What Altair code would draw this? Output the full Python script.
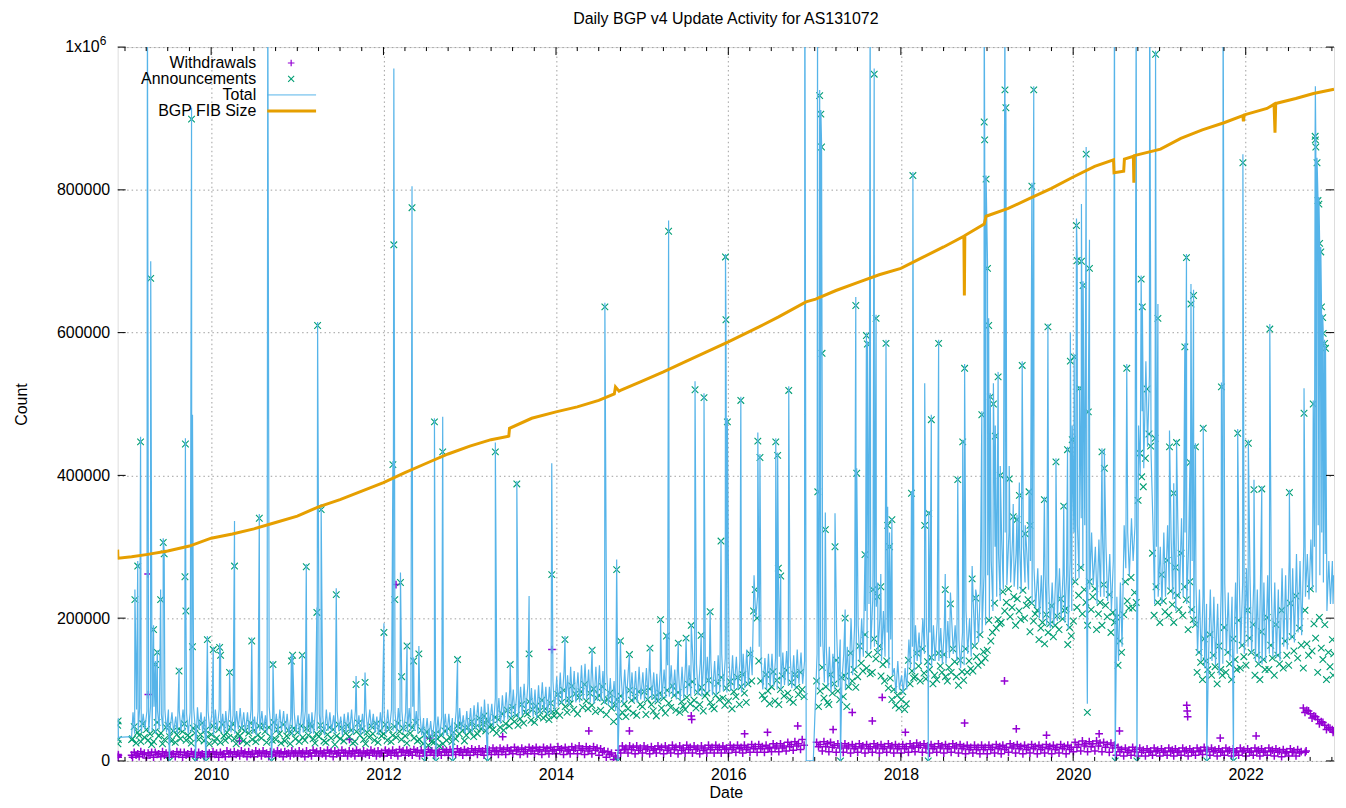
import altair as alt
import pandas as pd

K = 1000
W, H = 1220, 716
FONT = "Liberation Sans"
PURPLE, GREEN, BLUE, ORANGE = "#9400D3", "#009E73", "#56B4E9", "#E69F00"
GRID = "#a0a0a0"
PLUS = "M-1,0L1,0M0,-1L0,1"
CROSS = "M-1,-1L1,1M-1,1L1,-1"

YEARS = list(range(2009, 2023))

# ---------- Total (thousands): four readings per month (days 4, 11, 19, 26) ----------
total_2009 = [None, None, None, None, 68, 38, 72, 42, 74, 40, 66, 44,
              70, 40, 76, 42, 76, 38, 70, 44, 66, 42, 72, 40,
              72, 44, 68, 40, 62, 38, 70, 42, 72, 42, 66, 38,
              68, 40, 74, 44, 75, 44, 68, 40, 62, 38, 70, 42]
total_2010 = [66, 36, 72, 42, 72, 40, 66, 38, 70, 42, 74, 40,
              64, 38, 70, 44, 74, 44, 68, 40, 68, 40, 72, 38,
              62, 36, 70, 42, 70, 42, 64, 38, 76, 44, 70, 40,
              66, 38, 72, 42, 70, 40, 66, 38, 60, 36, 68, 40]
total_2011 = [64, 36, 70, 40, 70, 40, 66, 38, 68, 38, 72, 42,
              66, 40, 62, 36, 72, 42, 68, 40, 64, 38, 70, 42,
              62, 36, 66, 40, 68, 40, 72, 38, 70, 42, 64, 36,
              66, 38, 70, 42, 72, 44, 66, 40, 62, 36, 68, 40]
total_2012 = [66, 38, 72, 42, 72, 42, 68, 40, 74, 44, 70, 40,
              68, 40, 74, 42, 76, 42, 70, 38, 64, 36, 60, 34,
              60, 32, 56, 30, 58, 30, 62, 34, 62, 34, 66, 36,
              66, 36, 60, 34, 70, 40, 74, 42, 64, 38, 70, 40]
total_2013 = [74, 40, 78, 44, 82, 44, 76, 42, 86, 46, 80, 50,
              80, 48, 88, 52, 88, 52, 92, 56, 96, 58, 100, 60,
              100, 62, 96, 60, 104, 64, 108, 66, 108, 66, 102, 62,
              100, 60, 106, 66, 110, 68, 104, 64, 104, 66, 112, 70]
total_2014 = [118, 76, 124, 80, 126, 80, 120, 78, 132, 84, 126, 82,
              124, 82, 134, 86, 136, 86, 128, 82, 128, 80, 132, 84,
              134, 84, 126, 80, 122, 78, 116, 74, 112, 70, 118, 76,
              120, 80, 128, 84, 130, 86, 124, 82, 126, 82, 132, 86]
total_2015 = [124, 84, 130, 86, 130, 86, 124, 82, 122, 82, 128, 86,
              128, 88, 134, 90, 134, 90, 128, 86, 126, 84, 132, 88,
              138, 92, 134, 90, 142, 94, 136, 92, 136, 90, 142, 94,
              146, 96, 140, 92, 140, 92, 148, 96, 150, 98, 144, 96]
total_2016 = [140, 98, 148, 100, 146, 100, 140, 96, 150, 102, 156, 106,
              160, 120, 260, 200, 230, 160, 140, 100, 144, 100, 150, 104,
              150, 104, 144, 100, 146, 100, 152, 106, 154, 106, 148, 102,
              148, 102, 156, 108, 152, 108, 140, 0, 0, 0, 0, 0]
total_2017 = [None, 150, 100, 160, 170, 110, 160, 104, 160, 96, 150, 100,
              180, 104, 170, 110, 150, 100, 160, 106, 200, 120, 190, 130,
              190, 140, 200, 146, 210, 150, 220, 156, 227, 160, 216, 150,
              200, 140, 210, 146, 180, 130, 170, 120, 130, 96, 140, 100]
total_2018 = [120, 95, 130, 100, 170, 130, 160, 124, 190, 140, 180, 136,
              200, 150, 190, 144, 180, 132, 190, 140, 196, 140, 186, 136,
              186, 136, 196, 144, 200, 150, 190, 140, 170, 130, 180, 134,
              210, 150, 200, 146, 220, 160, 230, 166, 250, 180, 260, 190]
total_2019 = [260, 200, 280, 210, 300, 230, 290, 224, 310, 240, 320, 246,
              320, 250, 310, 244, 290, 240, 300, 236, 300, 250, 290, 240,
              280, 220, 270, 214, 270, 200, 260, 196, 260, 190, 250, 186,
              250, 190, 260, 196, 270, 200, 262, 194, 260, 185, 280, 210]
total_2020 = [320, 250, 330, 256, 340, 270, 330, 260, 310, 240, 320, 246,
              300, 220, 310, 230, 320, 230, 300, 224, 290, 210, 280, 206,
              230, 140, 250, 160, 330, 270, 320, 260, 340, 280, 330, 270,
              470, 400, 490, 410, 560, 440, 540, 430, 330, 220, 300, 230]
total_2021 = [300, 220, 320, 230, 330, 240, 310, 226, 320, 210, 340, 230,
              340, 230, 320, 220, 300, 205, 280, 190, 250, 150, 240, 140,
              230, 130, 220, 124, 240, 140, 230, 134, 220, 120, 240, 136,
              250, 150, 236, 140, 230, 140, 250, 150, 260, 160, 250, 150]
total_2022 = [270, 160, 260, 150, 250, 140, 240, 136, 240, 135, 250, 140,
              260, 150, 250, 146, 250, 145, 240, 140, 270, 160, 260, 156,
              280, 170, 270, 166, 290, 180, 280, 176, 300, 230, 290, 226,
              310, 240, 300, 236, 330, 260, 320, 250, 290, 210, 280, 220]
TOTAL = [total_2009, total_2010, total_2011, total_2012, total_2013, total_2014, total_2015,
         total_2016, total_2017, total_2018, total_2019, total_2020, total_2021, total_2022]

# ---------- Announcements (thousands): four per month (days 2, 9, 17, 24) ----------
ann_2009 = [None, None, None, None, 31, 48, 25, 40, 36, 27, 52, 33,
            44, 29, 38, 23, 27, 41, 54, 35, 39, 24, 30, 47,
            50, 34, 28, 42, 26, 37, 45, 31, 41, 52, 29, 36,
            33, 25, 46, 39, 48, 30, 37, 53, 28, 43, 34, 24]
ann_2010 = [37, 49, 27, 32, 44, 26, 51, 35, 29, 40, 33, 47,
            52, 31, 24, 38, 35, 46, 28, 42, 25, 39, 53, 30,
            43, 27, 36, 49, 32, 50, 41, 26, 47, 34, 29, 54,
            30, 44, 38, 25, 51, 28, 35, 43, 24, 39, 46, 31]
ann_2011 = [40, 27, 49, 33, 29, 45, 36, 52, 48, 31, 25, 38,
            34, 50, 42, 28, 26, 37, 47, 32, 44, 23, 35, 51,
            31, 46, 28, 39, 50, 34, 43, 25, 27, 41, 53, 36,
            45, 30, 24, 40, 33, 49, 38, 29, 52, 26, 42, 35]
ann_2012 = [38, 51, 29, 44, 27, 36, 48, 33, 53, 41, 30, 46,
            35, 25, 50, 39, 47, 32, 54, 28, 30, 43, 24, 37,
            41, 22, 34, 27, 26, 38, 31, 21, 36, 24, 42, 29,
            45, 33, 27, 40, 31, 49, 38, 52, 43, 28, 36, 47]
ann_2013 = [41, 55, 34, 47, 38, 60, 45, 52, 63, 42, 56, 48,
            50, 44, 61, 39, 58, 47, 66, 43, 52, 71, 49, 60,
            75, 55, 64, 50, 59, 79, 53, 68, 66, 83, 57, 72,
            54, 77, 62, 70, 85, 60, 73, 66, 58, 81, 69, 63]
ann_2014 = [70, 93, 64, 82, 99, 76, 68, 87, 80, 105, 72, 94,
            66, 89, 97, 75, 107, 84, 73, 95, 78, 101, 69, 88,
            92, 71, 104, 83, 65, 86, 95, 74, 55, 78, 86, 62,
            91, 68, 80, 62, 73, 99, 85, 67, 88, 64, 97, 79]
ann_2015 = [76, 97, 65, 86, 101, 79, 70, 90, 63, 84, 95, 74,
            88, 67, 99, 81, 75, 105, 92, 71, 96, 68, 83, 77,
            72, 89, 107, 80, 111, 85, 74, 96, 79, 103, 70, 91,
            95, 113, 82, 76, 73, 92, 109, 86, 117, 88, 78, 102]
ann_2016 = [84, 111, 73, 97, 90, 117, 79, 104, 121, 95, 82, 108,
            150, 112, 210, 240, 200, 140, 112, 92, 87, 121, 98, 80,
            104, 125, 84, 113, 79, 100, 119, 91, 127, 95, 86, 110,
            82, 121, 103, 93, 124, 100, 90, None, None, None, None, None]
ann_2017 = [None, 112, 76, 98, 131, 88, 104, 82, 79, 121, 95, 108,
            141, 98, 86, 117, 90, 119, 76, 104, 151, 112, 128, 103,
            118, 161, 137, 126, 177, 130, 149, 122, 124, 171, 143, 152,
            161, 119, 135, 112, 140, 102, 116, 86, 100, 78, 92, 74]
ann_2018 = [86, 97, 72, 80, 141, 108, 126, 116, 118, 151, 133, 112,
            157, 123, 115, 139, 128, 145, 108, 120, 114, 151, 133, 124,
            149, 118, 112, 131, 124, 157, 139, 118, 106, 141, 125, 113,
            157, 124, 140, 129, 126, 161, 146, 134, 177, 138, 153, 144]
ann_2019 = [155, 197, 168, 180, 221, 186, 198, 192, 194, 237, 210, 222,
            241, 202, 215, 230, 190, 227, 210, 198, 239, 200, 218, 226,
            181, 221, 196, 206, 211, 170, 186, 194, 164, 205, 180, 192,
            217, 174, 190, 203, 184, 227, 199, 211, 213, 163, 187, 175]
ann_2020 = [196, 251, 215, 232, 271, 206, 240, 222, 190, 251, 212, 230,
            241, 184, 206, 222, 190, 247, 218, 202, 233, 180, 208, 194,
            201, 134, 168, 152, 205, 251, 224, 214, 257, 214, 236, 222,
            365, 431, 398, 384, 424, 521, 458, 441, 291, 204, 244, 222]
ann_2021 = [194, 261, 224, 209, 281, 204, 238, 219, 194, 271, 232, 212,
            291, 204, 244, 226, 184, 251, 212, 198, 191, 124, 152, 138,
            114, 171, 140, 128, 177, 120, 148, 132, 108, 161, 128, 120,
            187, 124, 152, 136, 114, 171, 142, 128, 197, 130, 162, 146]
ann_2022 = [134, 211, 172, 152, 191, 120, 148, 136, 114, 181, 142, 128,
            201, 128, 162, 144, 120, 191, 148, 136, 211, 130, 168, 148,
            134, 221, 174, 154, 231, 144, 186, 162, 130, 211, 164, 148,
            241, 154, 192, 172, 124, 201, 158, 142, 191, 114, 152, 132]
ANN = [ann_2009, ann_2010, ann_2011, ann_2012, ann_2013, ann_2014, ann_2015,
       ann_2016, ann_2017, ann_2018, ann_2019, ann_2020, ann_2021, ann_2022]

# ---------- Withdrawals (thousands): four per month (days 2, 9, 17, 24) ----------
wd_2009 = [None, None, None, None, 5, 12, 8, 10, 6, 13, 9, 11,
           4, 11, 8, 12, 5, 12, 9, 10, 6, 13, 8, 11,
           5, 12, 9, 10, 6, 13, 9, 12, 5, 12, 8, 10,
           6, 13, 9, 11, 5, 12, 8, 10, 6, 13, 9, 11]
wd_2010 = [6, 13, 9, 11, 5, 12, 9, 10, 6, 14, 10, 12,
           6, 13, 9, 11, 7, 14, 10, 12, 6, 13, 9, 11,
           6, 14, 10, 12, 7, 14, 10, 11, 6, 13, 9, 12,
           7, 14, 10, 12, 6, 13, 10, 11, 7, 14, 10, 12]
wd_2011 = [7, 14, 10, 12, 6, 14, 10, 11, 7, 15, 11, 13,
           7, 14, 10, 12, 7, 15, 11, 13, 6, 14, 10, 12,
           7, 15, 11, 12, 7, 14, 10, 13, 7, 15, 11, 12,
           7, 14, 10, 12, 8, 15, 11, 13, 7, 14, 10, 12]
wd_2012 = [7, 15, 11, 13, 8, 15, 11, 12, 7, 16, 12, 14,
           8, 15, 11, 13, 8, 16, 12, 14, 7, 15, 11, 13,
           8, 16, 12, 14, 8, 15, 11, 13, 8, 16, 12, 14,
           8, 16, 12, 13, 9, 17, 12, 14, 8, 16, 12, 14]
wd_2013 = [8, 17, 12, 15, 9, 17, 13, 14, 8, 17, 12, 15,
           9, 18, 13, 15, 9, 18, 13, 16, 9, 18, 14, 15,
           10, 19, 14, 16, 9, 18, 13, 16, 10, 19, 14, 17,
           10, 19, 14, 16, 9, 19, 14, 17, 10, 19, 14, 16]
wd_2014 = [10, 20, 15, 17, 9, 19, 14, 16, 10, 20, 15, 18,
           10, 21, 15, 17, 9, 20, 14, 17, 10, 20, 15, 18,
           8, 17, 12, 14, 5, 13, 9, 11, 2, 7, 4, 15,
           11, 21, 16, 18, 11, 21, 16, 19, 10, 21, 15, 18]
wd_2015 = [11, 21, 16, 18, 10, 20, 15, 17, 11, 21, 16, 19,
           10, 21, 15, 18, 11, 22, 16, 19, 10, 21, 15, 18,
           11, 22, 16, 19, 11, 21, 16, 18, 10, 21, 15, 18,
           11, 22, 16, 19, 11, 22, 16, 19, 11, 21, 16, 18]
wd_2016 = [11, 22, 16, 19, 12, 22, 17, 19, 11, 22, 16, 19,
           12, 23, 17, 20, 12, 23, 17, 20, 12, 22, 17, 19,
           13, 24, 18, 21, 13, 24, 18, 21, 14, 26, 20, 23,
           15, 27, 21, 24, 16, 30, 22, None, None, None, None, None]
wd_2017 = [None, 26, 20, 23, 14, 27, 20, 24, 13, 26, 19, 22,
           12, 24, 18, 21, 12, 24, 18, 21, 11, 23, 17, 20,
           12, 24, 18, 21, 11, 23, 17, 20, 12, 24, 18, 21,
           11, 23, 17, 20, 12, 24, 18, 21, 11, 23, 17, 20]
wd_2018 = [11, 23, 17, 20, 12, 24, 18, 21, 13, 25, 19, 22,
           12, 24, 18, 21, 11, 23, 17, 20, 12, 24, 18, 21,
           11, 23, 17, 20, 12, 24, 18, 21, 11, 23, 17, 20,
           10, 22, 16, 19, 11, 22, 16, 19, 10, 22, 16, 19]
wd_2019 = [10, 22, 16, 19, 11, 23, 17, 20, 10, 22, 16, 19,
           12, 24, 18, 21, 11, 23, 17, 20, 10, 22, 16, 19,
           11, 23, 17, 20, 10, 22, 16, 19, 11, 23, 17, 20,
           10, 22, 16, 19, 11, 23, 17, 20, 10, 22, 16, 19]
wd_2020 = [13, 26, 19, 23, 14, 28, 21, 24, 13, 27, 20, 24,
           14, 28, 21, 25, 13, 26, 19, 23, 12, 25, 18, 22,
           8, 19, 13, 16, 7, 18, 12, 15, 8, 19, 13, 16,
           7, 18, 12, 15, 7, 17, 12, 14, 8, 18, 13, 15]
wd_2021 = [7, 17, 12, 14, 8, 18, 13, 15, 7, 17, 12, 14,
           8, 18, 13, 15, 7, 17, 12, 14, 8, 18, 13, 15,
           9, 19, 14, 16, 8, 18, 13, 15, 7, 17, 12, 14,
           8, 18, 13, 15, 7, 17, 12, 14, 8, 18, 13, 15]
wd_2022 = [7, 17, 12, 14, 8, 18, 13, 15, 7, 17, 12, 14,
           8, 18, 13, 15, 7, 17, 12, 14, 6, 16, 11, 13,
           7, 17, 12, 14, 7, 16, 11, 13, 74, 68, 71, 70,
           66, 60, 63, 62, 58, 52, 55, 54, 50, 44, 47, 46]
WD = [wd_2009, wd_2010, wd_2011, wd_2012, wd_2013, wd_2014, wd_2015,
      wd_2016, wd_2017, wd_2018, wd_2019, wd_2020, wd_2021, wd_2022]

# first days (Dec 2008 / late Jan 2009) and last days (Jan 2023)
head_dates = ["2008-12-01", "2008-12-02", "2008-12-03", "2008-12-04", "2009-01-29"]
head_total = [55, 28, 60, 33, 34]
head_ann = [50, 24, 56, 30, 30]
head_wd = [6, 9, 5, 8, 8]
tail_dates = ["2023-01-03", "2023-01-06", "2023-01-09"]
tail_total = [280, 220, 260]
tail_ann = [170, 120, 150]
tail_wd = [44, 40, 42]

# ---------- single-day spikes / outages: (date, total, announcements) in thousands ----------
spikes_2009 = [("2009-02-12", 240, 226), ("2009-02-24", 280, 273), ("2009-03-08", 454, 447),
               ("2009-04-06", 1100, 1050), ("2009-04-20", 700, 676), ("2009-05-02", 190, 184),
               ("2009-05-10", 140, 135), ("2009-05-18", 155, 152), ("2009-06-01", 240, 226),
               ("2009-06-12", 312, 306), ("2009-06-16", 295, 290), ("2009-07-08", 0, 0),
               ("2009-08-18", 130, 126), ("2009-09-12", 260, 258), ("2009-09-14", 452, 444),
               ("2009-09-16", 215, 210), ("2009-10-10", 915, 899), ("2009-10-14", 485, 160),
               ("2009-10-26", 0, 0), ("2009-12-10", 0, 0), ("2009-12-16", 175, 170)]
spikes_2010 = [("2010-01-10", 160, 156), ("2010-02-06", 165, 159), ("2010-02-10", 150, 148),
               ("2010-03-20", 128, 124), ("2010-04-10", 336, 273), ("2010-06-22", 173, 168),
               ("2010-07-24", 346, 340), ("2010-08-29", 1100, 1050), ("2010-09-14", 0, 0),
               ("2010-09-20", 140, 135), ("2010-12-07", 149, 140), ("2010-12-12", 150, 148)]
spikes_2011 = [("2011-01-22", 150, 148), ("2011-02-08", 276, 272), ("2011-03-25", 215, 208),
               ("2011-03-28", 615, 610), ("2011-04-12", 360, 352), ("2011-06-15", 242, 233),
               ("2011-09-07", 119, 107), ("2011-10-15", 124, 110)]
spikes_2012 = [("2012-01-03", 193, 180), ("2012-02-10", 420, 415), ("2012-02-14", 970, 723),
               ("2012-02-18", 250, 226), ("2012-03-13", 264, 250), ("2012-03-18", 120, 118),
               ("2012-04-10", 165, 161), ("2012-05-01", 805, 775), ("2012-05-08", 145, 140),
               ("2012-05-30", 161, 150), ("2012-06-24", 0, 0), ("2012-08-04", 480, 475),
               ("2012-08-10", 0, 0), ("2012-09-08", 482, 433), ("2012-10-20", 0, 0),
               ("2012-11-10", 145, 142)]
spikes_2013 = [("2013-03-17", 0, 0), ("2013-04-19", 446, 433), ("2013-06-21", 138, 135),
               ("2013-07-19", 392, 388), ("2013-09-09", 231, 150), ("2013-12-14", 417, 261)]
spikes_2014 = [("2014-02-08", 175, 170), ("2014-06-03", 158, 155), ("2014-07-27", 642, 636),
               ("2014-09-15", 282, 268), ("2014-09-20", 0, 0), ("2014-10-01", 170, 168),
               ("2014-11-08", 150, 149)]
spikes_2015 = [("2015-02-03", 160, 158), ("2015-03-20", 200, 198), ("2015-04-14", 178, 175),
               ("2015-04-23", 757, 742), ("2015-06-03", 168, 165), ("2015-07-06", 175, 172),
               ("2015-07-28", 192, 190), ("2015-08-13", 532, 520), ("2015-09-08", 178, 176),
               ("2015-09-20", 515, 509), ("2015-10-16", 212, 209), ("2015-12-01", 310, 308),
               ("2015-12-20", 710, 706), ("2015-12-22", 622, 618), ("2015-12-28", 480, 475)]
spikes_2016 = [("2016-02-23", 510, 505), ("2016-05-05", 460, 448), ("2016-05-14", 430, 425),
               ("2016-07-20", 452, 447), ("2016-07-28", 432, 428), ("2016-07-31", 278, 270),
               ("2016-08-10", 262, 259), ("2016-09-13", 525, 519), ("2016-11-20", 1200, 1100)]
spikes_2017 = [("2017-01-13", 1100, 1050), ("2017-01-14", 380, 377), ("2017-01-22", 940, 932),
               ("2017-01-27", 912, 906), ("2017-01-30", 866, 860), ("2017-02-01", 580, 571),
               ("2017-02-15", 348, 324), ("2017-03-28", 347, 300), ("2017-04-20", 0, 0),
               ("2017-05-10", 212, 200), ("2017-06-24", 650, 638), ("2017-06-28", 410, 403),
               ("2017-08-02", 292, 289), ("2017-08-08", 600, 596), ("2017-08-12", 588, 584),
               ("2017-08-24", 1100, 1050), ("2017-09-05", 270, 240), ("2017-09-10", 970, 962),
               ("2017-09-18", 625, 620), ("2017-09-25", 250, 230), ("2017-10-08", 262, 244),
               ("2017-10-30", 590, 585), ("2017-11-06", 356, 330), ("2017-11-14", 320, 300),
               ("2017-11-24", 340, 338)]
spikes_2018 = [("2018-02-15", 378, 375), ("2018-02-21", 825, 820), ("2018-04-12", 529, 330),
               ("2018-04-27", 0, 0), ("2018-04-29", 350, 347), ("2018-05-10", 485, 478),
               ("2018-06-10", 590, 585), ("2018-07-08", 262, 240), ("2018-07-30", 236, 220),
               ("2018-08-30", 398, 394), ("2018-09-20", 450, 447), ("2018-09-28", 556, 550),
               ("2018-10-30", 273, 255), ("2018-11-14", 240, 228), ("2018-12-10", 490, 485),
               ("2018-12-20", 1100, 895), ("2018-12-22", 880, 870), ("2018-12-28", 820, 815)]
spikes_2019 = [("2019-01-03", 700, 690), ("2019-01-08", 620, 610), ("2019-01-15", 515, 510),
               ("2019-01-28", 529, 500), ("2019-02-05", 470, 455), ("2019-02-17", 545, 538),
               ("2019-02-26", 413, 400), ("2019-03-18", 1100, 940), ("2019-03-22", 920, 915),
               ("2019-04-05", 413, 395), ("2019-04-22", 360, 342), ("2019-05-08", 345, 338),
               ("2019-05-18", 390, 372), ("2019-05-30", 560, 554), ("2019-06-12", 330, 318),
               ("2019-06-28", 380, 377), ("2019-07-02", 350, 330), ("2019-07-10", 810, 805),
               ("2019-07-18", 945, 940), ("2019-09-01", 370, 366), ("2019-09-16", 612, 608),
               ("2019-10-20", 424, 419), ("2019-11-22", 360, 357), ("2019-12-08", 440, 436),
               ("2019-12-20", 600, 560), ("2019-12-28", 470, 450)]
spikes_2020 = [("2020-01-05", 570, 566), ("2020-01-15", 760, 750), ("2020-01-18", 705, 701),
               ("2020-01-28", 525, 522), ("2020-02-05", 780, 700), ("2020-02-12", 672, 666),
               ("2020-02-25", 860, 850), ("2020-03-01", 80, 68), ("2020-03-05", 494, 489),
               ("2020-03-10", 730, 690), ("2020-05-02", 438, 433), ("2020-05-12", 436, 410),
               ("2020-06-24", 1100, 1050), ("2020-06-27", 0, 0), ("2020-08-15", 556, 550),
               ("2020-09-24", 1100, 1050), ("2020-09-27", 0, 0), ("2020-10-15", 680, 675),
               ("2020-10-20", 640, 636), ("2020-11-20", 1100, 1050), ("2020-12-13", 456, 452),
               ("2020-12-15", 995, 990), ("2020-12-25", 640, 620)]
spikes_2021 = [("2021-02-12", 463, 440), ("2021-03-02", 389, 375), ("2021-03-14", 450, 446),
               ("2021-04-18", 585, 580), ("2021-04-25", 710, 705), ("2021-05-10", 422, 418),
               ("2021-05-14", 668, 640), ("2021-05-25", 660, 652), ("2021-06-02", 445, 440),
               ("2021-07-05", 470, 466), ("2021-07-20", 0, 0), ("2021-09-20", 530, 524),
               ("2021-09-27", 1100, 1050), ("2021-11-10", 0, 0), ("2021-11-28", 465, 459),
               ("2021-12-20", 850, 838)]
spikes_2022 = [("2022-01-12", 450, 445), ("2022-02-05", 394, 380), ("2022-03-10", 385, 381),
               ("2022-04-13", 612, 605), ("2022-07-05", 380, 376), ("2022-09-05", 522, 487),
               ("2022-10-14", 505, 500), ("2022-10-22", 880, 875), ("2022-10-23", 945, 870),
               ("2022-10-25", 865, 860), ("2022-10-30", 845, 838), ("2022-11-03", 790, 785),
               ("2022-11-07", 790, 780), ("2022-11-10", 730, 725), ("2022-11-15", 720, 713),
               ("2022-11-18", 640, 636), ("2022-11-23", 625, 621), ("2022-11-25", 605, 599),
               ("2022-12-01", 590, 585), ("2022-12-05", 582, 578)]
SPIKES = (spikes_2009 + spikes_2010 + spikes_2011 + spikes_2012 + spikes_2013 + spikes_2014
          + spikes_2015 + spikes_2016 + spikes_2017 + spikes_2018 + spikes_2019 + spikes_2020
          + spikes_2021 + spikes_2022)

# scattered withdrawal outliers (date, thousands)
wd_outliers = [("2009-04-09", 262), ("2009-04-10", 93), ("2010-05-01", 28), ("2011-08-10", 30),
               ("2012-02-23", 247), ("2012-07-15", 32), ("2013-05-20", 34), ("2013-12-15", 156),
               ("2014-05-20", 42), ("2014-11-08", 42), ("2015-07-28", 63), ("2015-07-30", 58),
               ("2016-03-10", 38), ("2016-06-15", 40), ("2016-10-21", 49), ("2017-03-20", 44),
               ("2017-06-09", 68), ("2017-09-02", 56), ("2017-10-14", 89), ("2018-01-20", 40),
               ("2018-09-28", 53), ("2019-03-16", 112), ("2019-05-05", 45), ("2019-09-10", 36),
               ("2020-04-20", 38), ("2020-07-15", 42), ("2021-04-26", 78), ("2021-04-28", 70),
               ("2021-04-30", 62), ("2021-09-15", 32), ("2022-02-14", 35), ("2022-09-10", 12),
               ("2022-09-14", 14)]

# BGP FIB size (date, thousands)
fib_points = [("2008-12-01", 296), ("2008-12-02", 285), ("2008-12-04", 284), ("2009-01-29", 286),
              ("2009-04-01", 289), ("2009-07-01", 294), ("2009-10-01", 301),
              ("2010-01-01", 312), ("2010-04-01", 318), ("2010-07-01", 325), ("2010-10-01", 334),
              ("2011-01-01", 343), ("2011-04-01", 356), ("2011-07-01", 366), ("2011-10-01", 378),
              ("2012-01-01", 390), ("2012-04-01", 404), ("2012-07-01", 417), ("2012-10-01", 430),
              ("2013-01-01", 441), ("2013-04-01", 450), ("2013-06-15", 455), ("2013-06-18", 466),
              ("2013-09-20", 480), ("2014-01-01", 489), ("2014-04-01", 496), ("2014-07-01", 505),
              ("2014-09-05", 514), ("2014-09-10", 524), ("2014-09-25", 518), ("2014-10-01", 519),
              ("2015-01-01", 532), ("2015-04-01", 545), ("2015-07-01", 559), ("2015-10-01", 573),
              ("2016-01-01", 587), ("2016-05-10", 608), ("2016-08-01", 622), ("2016-11-25", 643),
              ("2017-01-05", 647), ("2017-04-01", 659), ("2017-07-01", 670), ("2017-10-01", 681),
              ("2018-01-01", 690), ("2018-04-01", 705), ("2018-07-01", 720), ("2018-09-25", 735),
              ("2018-09-27", 652), ("2018-09-29", 736), ("2018-12-20", 752), ("2018-12-28", 763),
              ("2019-04-01", 774), ("2019-07-01", 788), ("2019-10-01", 802),
              ("2020-01-01", 818), ("2020-04-01", 833), ("2020-06-20", 842), ("2020-06-22", 824),
              ("2020-08-02", 826), ("2020-08-05", 843), ("2020-09-12", 847), ("2020-09-14", 810),
              ("2020-09-16", 848), ("2021-01-05", 857), ("2021-04-01", 872), ("2021-07-01", 884),
              ("2021-10-01", 894), ("2021-12-20", 904), ("2021-12-22", 896), ("2021-12-26", 905),
              ("2022-04-01", 914), ("2022-05-01", 920), ("2022-05-05", 880), ("2022-05-08", 921),
              ("2022-08-01", 928), ("2022-10-15", 935), ("2023-01-10", 941)]

Y_TICKS = [0, 200000, 400000, 600000, 800000, 1000000]
X_LABEL_YEARS = list(range(2010, 2023, 2))


# ---------------- build tables ----------------
def expand(lists, days):
    rows = []
    n = len(days)
    for year, vals in zip(YEARS, lists):
        assert len(vals) == 12 * n, (year, len(vals))
        for i, v in enumerate(vals):
            if v is None:
                continue
            rows.append((f"{year}-{i // n + 1:02d}-{days[i % n]:02d}", v * K))
    return rows


def frame(rows):
    rows = sorted(rows, key=lambda r: r[0])
    return pd.DataFrame(rows, columns=["date", "value"])


t_rows = (list(zip(head_dates, [v * K for v in head_total])) + expand(TOTAL, (4, 11, 19, 26))
          + list(zip(tail_dates, [v * K for v in tail_total]))
          + [(d, t * K) for d, t, a in SPIKES])
a_rows = (list(zip(head_dates, [v * K for v in head_ann])) + expand(ANN, (2, 9, 17, 24))
          + list(zip(tail_dates, [v * K for v in tail_ann]))
          + [(d, a * K) for d, t, a in SPIKES])
w_rows = (list(zip(head_dates, [v * K for v in head_wd])) + expand(WD, (2, 9, 17, 24))
          + list(zip(tail_dates, [v * K for v in tail_wd]))
          + [(d, v * K) for d, v in wd_outliers])

df_total = frame(t_rows)
df_ann = frame(a_rows)
df_wd = frame(w_rows)
df_fib = frame([(d, v * K) for d, v in fib_points])

# ---------------- scales / axes ----------------
x_axis = alt.Axis(values=[alt.DateTime(year=y, month=1, date=1, utc=True) for y in X_LABEL_YEARS],
                  format="%Y", formatType="utc", grid=True, gridColor=GRID, gridDash=[1.5, 3],
                  gridWidth=1, ticks=False, tickSize=0, domain=False, labelFont=FONT,
                  labelFontSize=16, labelColor="black", labelPadding=6, labelFlush=False,
                  titleFont=FONT, titleFontSize=16, titleFontWeight="normal", titleColor="black",
                  titleX=W / 2, titleY=32, titleBaseline="middle", titleAlign="center")
y_axis = alt.Axis(values=Y_TICKS, format="d",
                  labelExpr="datum.value >= 1000000 ? '' : datum.label",
                  grid=True, gridColor=GRID, gridDash=[1.5, 3], gridWidth=1, ticks=False,
                  tickSize=0, domain=False, labelFont=FONT, labelFontSize=16, labelColor="black",
                  labelPadding=8, titleFont=FONT, titleFontSize=16, titleFontWeight="normal",
                  titleColor="black", titleX=-96, titleY=H / 2, titleAngle=270,
                  titleAlign="center", titleBaseline="middle")

X = alt.X("date:T", title="Date", axis=x_axis,
          scale=alt.Scale(type="utc", nice=False,
                          domain=[alt.DateTime(year=2008, month=12, date=1, utc=True),
                                  alt.DateTime(year=2023, month=1, date=10, utc=True)]))
Y = alt.Y("value:Q", title="Count", axis=y_axis,
          scale=alt.Scale(domain=[0, 1000000], nice=False, zero=True))

# ---------------- data layers (gnuplot plot order) ----------------
wd_layer = alt.Chart(df_wd).mark_point(shape=PLUS, filled=False, size=60, strokeWidth=1.5,
                                        color=PURPLE, opacity=1, clip=True).encode(x=X, y=Y)
ann_layer = alt.Chart(df_ann).mark_point(shape=CROSS, filled=False, size=44, strokeWidth=1.1,
                                          color=GREEN, opacity=1, clip=True).encode(x=X, y=Y)
tot_layer = alt.Chart(df_total).mark_line(color=BLUE, strokeWidth=1.2, clip=True).encode(x=X, y=Y)
fib_layer = alt.Chart(df_fib).mark_line(color=ORANGE, strokeWidth=3, clip=True).encode(x=X, y=Y)

# ---------------- inward ticks (gnuplot style) ----------------
major_x = pd.DataFrame({"date": [f"{y}-01-01" for y in X_LABEL_YEARS]})
minor_x = pd.DataFrame({"date": [f"{y}-{m:02d}-01" for y in range(2009, 2024)
                                 for m in (1, 4, 7, 10)
                                 if not (m == 1 and y % 2 == 0) and f"{y}-{m:02d}" <= "2023-01"]})
y_ticks_df = pd.DataFrame({"value": Y_TICKS})


def xticks(df, length):
    bottom = alt.Chart(df).mark_rule(color="black", strokeWidth=1).encode(
        x=X, y=alt.value(H), y2=alt.value(H - length))
    top = alt.Chart(df).mark_rule(color="black", strokeWidth=1).encode(
        x=X, y=alt.value(0), y2=alt.value(length))
    return [bottom, top]


ytick_left = alt.Chart(y_ticks_df).mark_rule(color="black", strokeWidth=1).encode(
    y=Y, x=alt.value(0), x2=alt.value(8))
ytick_right = alt.Chart(y_ticks_df).mark_rule(color="black", strokeWidth=1).encode(
    y=Y, x=alt.value(W), x2=alt.value(W - 8))

one = pd.DataFrame({"k": [0]})


def text_at(label, x, y, align="right", size=16, baseline="middle"):
    return alt.Chart(one).mark_text(align=align, baseline=baseline, font=FONT, fontSize=size,
                                    color="black").encode(
        x=alt.value(x), y=alt.value(y), text=alt.value(label))


# top tick label "1x10^6" with a raised exponent, and the chart title
extra_text = [
    text_at("1x10", -18, 0),
    text_at("6", -18, -6, align="left", size=12),
    text_at("Daily BGP v4 Update Activity for AS131072", W / 2, -23, align="center",
            baseline="alphabetic"),
]

# ---------------- legend (gnuplot style: label right-aligned, sample to the right) ----------------
legend = [
    text_at("Withdrawals", 139, 16),
    text_at("Announcements", 139, 32),
    text_at("Total", 139, 48),
    text_at("BGP FIB Size", 139, 64),
    alt.Chart(one).mark_point(shape=PLUS, filled=False, size=44, strokeWidth=1.2, color=PURPLE,
                              opacity=1).encode(x=alt.value(174), y=alt.value(16)),
    alt.Chart(one).mark_point(shape=CROSS, filled=False, size=36, strokeWidth=1.1, color=GREEN,
                              opacity=1).encode(x=alt.value(174), y=alt.value(32)),
    alt.Chart(one).mark_rule(color=BLUE, strokeWidth=1).encode(
        x=alt.value(150), x2=alt.value(199), y=alt.value(48)),
    alt.Chart(one).mark_rule(color=ORANGE, strokeWidth=3).encode(
        x=alt.value(150), x2=alt.value(199), y=alt.value(64)),
]

layers = ([wd_layer, ann_layer, tot_layer, fib_layer] + xticks(major_x, 8) + xticks(minor_x, 4)
          + [ytick_left, ytick_right] + extra_text + legend)

chart = alt.layer(*layers).properties(
    width=W, height=H,
    padding={"left": 110, "top": 38, "right": 4, "bottom": 38},
    autosize=alt.AutoSizeParams(type="none"),
).configure_view(stroke="black", strokeWidth=1).configure(background="white")

chart.save("out.html", embed_options={"renderer": "svg", "actions": False})
